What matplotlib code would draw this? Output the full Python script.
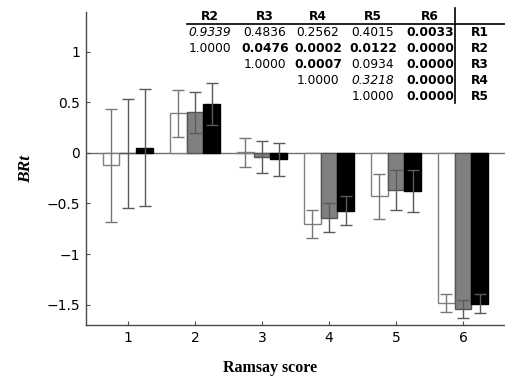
import numpy as np
import matplotlib.pyplot as plt
from matplotlib.lines import Line2D

# ---------------------------------------------------------
# DATA
# ---------------------------------------------------------
scores = [1, 2, 3, 4, 5, 6]
white_vals = [-0.125, 0.39, 0.005, -0.70, -0.43, -1.485]
white_err = [0.555, 0.235, 0.145, 0.14, 0.22, 0.088]
gray_vals = [-0.005, 0.40, -0.04, -0.64, -0.365, -1.545]
gray_err = [0.535, 0.20, 0.155, 0.145, 0.195, 0.09]
black_vals = [0.05, 0.48, -0.065, -0.57, -0.375, -1.49]
black_err = [0.58, 0.21, 0.165, 0.145, 0.205, 0.095]

col_labels = ["R2", "R3", "R4", "R5", "R6"]
row_labels = ["R1", "R2", "R3", "R4", "R5"]
# (text, style) per cell; style: n=normal, b=bold, i=italic
table_cells = [
    [("0.9339", "i"), ("0.4836", "n"), ("0.2562", "n"), ("0.4015", "n"), ("0.0033", "b")],
    [("1.0000", "n"), ("0.0476", "b"), ("0.0002", "b"), ("0.0122", "b"), ("0.0000", "b")],
    [("", "n"), ("1.0000", "n"), ("0.0007", "b"), ("0.0934", "n"), ("0.0000", "b")],
    [("", "n"), ("", "n"), ("1.0000", "n"), ("0.3218", "i"), ("0.0000", "b")],
    [("", "n"), ("", "n"), ("", "n"), ("1.0000", "n"), ("0.0000", "b")],
]

# ---------------------------------------------------------
# FIGURE
# ---------------------------------------------------------
fig = plt.figure(figsize=(5.05, 3.77), dpi=100)
ax = fig.add_axes([0.170, 0.138, 0.830, 0.830])

x = np.array(scores, dtype=float)
w = 0.25
spine_col = "#4a4a4a"
err_kw = dict(ecolor="#5a5a5a", elinewidth=1.0, capsize=4, capthick=1.0)

ax.bar(x - w, white_vals, w, yerr=white_err, color="white", edgecolor="#808080",
       linewidth=1.0, error_kw=dict(err_kw, ecolor="#777777"), zorder=2)
ax.bar(x, gray_vals, w, yerr=gray_err, color="#808080", edgecolor="#555555",
       linewidth=1.0, error_kw=err_kw, zorder=2)
ax.bar(x + w, black_vals, w, yerr=black_err, color="black", edgecolor="black",
       linewidth=1.0, error_kw=err_kw, zorder=2)

ax.axhline(0, color="#707070", linewidth=1.0, zorder=1)

ax.set_xlim(0.373, 6.627)
ax.set_ylim(-1.70, 1.39)
ax.set_xticks(scores)
ax.set_yticks([-1.5, -1, -0.5, 0, 0.5, 1])
ax.set_yticklabels(["\u22121.5", "\u22121", "\u22120.5", "0", "0.5", "1"])

for s in ["top", "right"]:
    ax.spines[s].set_visible(False)
for s in ["left", "bottom"]:
    ax.spines[s].set_color(spine_col)
    ax.spines[s].set_linewidth(1.0)
ax.tick_params(direction="in", length=3, color=spine_col, labelsize=10, pad=4)

ax.set_xlabel("Ramsay score", family="Liberation Serif", fontweight="bold",
              fontsize=11.5)
ax.xaxis.set_label_coords(0.439, -0.137)
ax.xaxis.label.set_va("center")
ax.set_ylabel("BRt", family="Liberation Serif", fontweight="bold", style="italic",
              fontsize=12.5, labelpad=9)

# ---------------------------------------------------------
# P-VALUE TABLE (figure pixel positions)
# ---------------------------------------------------------
W, H = 505.0, 377.0
col_x = [210, 265, 318, 373, 430]
row_y = [32, 48, 64, 80, 97]
lab_x = 480
fs = 8.8

def fx(px):
    return px / W

def fy(py):
    return 1 - py / H

for cx, lab in zip(col_x, col_labels):
    fig.text(fx(cx), fy(16), lab, ha="center", va="center", fontsize=fs,
             fontweight="bold")
for ry, lab in zip(row_y, row_labels):
    fig.text(fx(lab_x), fy(ry), lab, ha="center", va="center", fontsize=fs,
             fontweight="bold")
for ry, row in zip(row_y, table_cells):
    for cx, (txt, st) in zip(col_x, row):
        if not txt:
            continue
        fig.text(fx(cx), fy(ry), txt, ha="center", va="center", fontsize=fs,
                 fontweight="bold" if st == "b" else "normal",
                 style="italic" if st == "i" else "normal")

fig.add_artist(Line2D([fx(187), fx(505)], [fy(24), fy(24)], color="black", linewidth=1.2))
fig.add_artist(Line2D([fx(455), fx(455)], [fy(8), fy(103)], color="black", linewidth=1.2))

fig.savefig("out.png", dpi=100)
